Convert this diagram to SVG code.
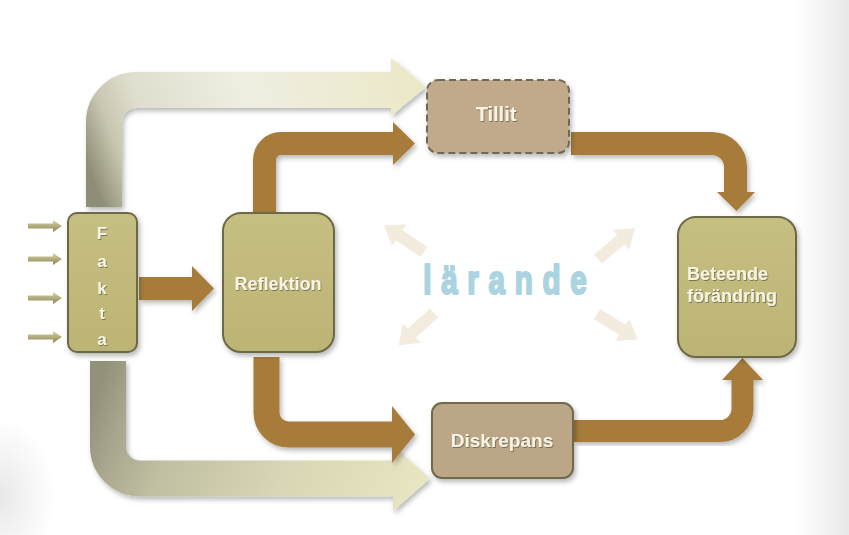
<svg xmlns="http://www.w3.org/2000/svg" width="849" height="535" viewBox="0 0 849 535">
  <defs>
    <style>
      .box { fill: #c1b97a; stroke: #6c6946; stroke-width: 2; }
      .brown { fill: none; stroke: #a77b3b; stroke-linecap: butt; }
      .head { fill: #a77b3b; }
      .lbl { font-family: "Liberation Sans", Arial, sans-serif; font-weight: bold; fill: #f8f4e4; }
      .diag { fill: #f3ebdd; }
      .inp { fill: url(#inpGrad); }
    </style>
    <filter id="shadow" x="-20%" y="-20%" width="140%" height="140%">
      <feDropShadow dx="2" dy="3" stdDeviation="2.5" flood-color="#000" flood-opacity="0.28"/>
    </filter>
    <filter id="tshadow" x="-10%" y="-10%" width="120%" height="130%">
      <feDropShadow dx="0.8" dy="1" stdDeviation="0.6" flood-color="#4a4530" flood-opacity="0.6"/>
    </filter>
    <linearGradient id="boxGrad" x1="0" y1="0" x2="0" y2="1">
      <stop offset="0" stop-color="#c6bf82"/>
      <stop offset="1" stop-color="#bcb474"/>
    </linearGradient>
    <linearGradient id="topGrad" gradientUnits="userSpaceOnUse" x1="104" y1="210" x2="426" y2="87">
      <stop offset="0" stop-color="#8e8d74"/>
      <stop offset="0.1" stop-color="#c8c7b1"/>
      <stop offset="0.2" stop-color="#dfddcd"/>
      <stop offset="0.5" stop-color="#efeee2"/>
      <stop offset="1" stop-color="#ebe8c6"/>
    </linearGradient>
    <linearGradient id="botGrad" gradientUnits="userSpaceOnUse" x1="108" y1="361" x2="430" y2="478">
      <stop offset="0" stop-color="#929179"/>
      <stop offset="0.1" stop-color="#a9a88f"/>
      <stop offset="0.25" stop-color="#c0bfa1"/>
      <stop offset="0.6" stop-color="#d8d6b4"/>
      <stop offset="1" stop-color="#e9e6c2"/>
    </linearGradient>
    <linearGradient id="inpGrad" x1="0" y1="0" x2="0" y2="1">
      <stop offset="0" stop-color="#d9d5a8"/>
      <stop offset="1" stop-color="#8a8550"/>
    </linearGradient>
    <linearGradient id="rightShade" x1="0" y1="0" x2="1" y2="0">
      <stop offset="0" stop-color="#e8e8e8" stop-opacity="0"/>
      <stop offset="1" stop-color="#e8e8e8" stop-opacity="1"/>
    </linearGradient>
    <radialGradient id="blShade" cx="0" cy="0.75" r="0.5">
      <stop offset="0" stop-color="#e8e8e8" stop-opacity="1"/>
      <stop offset="1" stop-color="#e8e8e8" stop-opacity="0"/>
    </radialGradient>
    <path id="diagArrow" d="M0,-6 H30 V-13 L48,0 L30,13 V6 H0 Z"/>
    <path id="inArrow" d="M0,-2.5 H25 V-6 L34,0 L25,6 V2.5 H0 Z"/>
  </defs>

  <!-- background -->
  <rect x="0" y="0" width="849" height="535" fill="#ffffff"/>
  <rect x="795" y="0" width="54" height="535" fill="url(#rightShade)"/>
  <rect x="0" y="380" width="110" height="155" fill="url(#blShade)"/>

  <!-- connectors -->
  <g id="connectors">
    <!-- light: Fakta -> Tillit -->
    <g filter="url(#shadow)">
      <path d="M104,207 V122 A32 32 0 0 1 136,90 H392" fill="none" stroke="url(#topGrad)" stroke-width="36"/>
      <polygon points="391,58 426,87 391,116" fill="url(#topGrad)"/>
    </g>
    <!-- light: Fakta -> Diskrepans -->
    <g filter="url(#shadow)">
      <path d="M108,361 V446.5 A32 32 0 0 0 140,478.5 H394" fill="none" stroke="url(#botGrad)" stroke-width="36"/>
      <polygon points="393,446 430,478.5 393,511" fill="url(#botGrad)"/>
    </g>
    <!-- Fakta -> Reflektion -->
    <g filter="url(#shadow)">
      <rect x="139" y="277" width="54" height="23" class="head"/>
      <polygon class="head" points="192,266 214,288.5 192,311"/>
    </g>
    <!-- Reflektion -> Tillit -->
    <g filter="url(#shadow)">
      <path class="brown" stroke-width="23" d="M264.5,212 V160 A16.5 16.5 0 0 1 281,143.5 H394"/>
      <polygon class="head" points="393,122 415,143.5 393,165"/>
    </g>
    <!-- Reflektion -> Diskrepans -->
    <g filter="url(#shadow)">
      <path class="brown" stroke-width="26" d="M266.5,357 V412.5 A22 22 0 0 0 288.5,434.5 H393"/>
      <polygon class="head" points="392,406 415,434.5 392,463"/>
    </g>
    <!-- Tillit -> Beteende -->
    <g filter="url(#shadow)">
      <path class="brown" stroke-width="23" d="M571,143.5 H712 A23.5 23.5 0 0 1 735.5,167 V193"/>
      <polygon class="head" points="717,192 755,192 736.5,211"/>
    </g>
    <!-- Diskrepans -> Beteende -->
    <g filter="url(#shadow)">
      <path class="brown" stroke-width="22" d="M574,431 H720 A22.5 22.5 0 0 0 742.5,408.5 V379"/>
      <polygon class="head" points="722,380 763,380 742.5,358"/>
    </g>
    <!-- input arrows -->
    <use href="#inArrow" class="inp" transform="translate(28,226)"/>
    <use href="#inArrow" class="inp" transform="translate(28,259)"/>
    <use href="#inArrow" class="inp" transform="translate(28,298)"/>
    <use href="#inArrow" class="inp" transform="translate(28,337)"/>
    <!-- faint arrows around lärande -->
    <use href="#diagArrow" class="diag" transform="translate(424,252) rotate(214)"/>
    <use href="#diagArrow" class="diag" transform="translate(598,259) rotate(-40)"/>
    <use href="#diagArrow" class="diag" transform="translate(434,313) rotate(137.6)"/>
    <use href="#diagArrow" class="diag" transform="translate(597,314) rotate(32)"/>
  </g>

  <!-- nodes -->
  <g id="fakta">
    <rect x="68" y="213" width="69" height="139" rx="9" class="box" style="fill:url(#boxGrad)" filter="url(#shadow)"/>
    <g class="lbl" font-size="17" text-anchor="middle" filter="url(#tshadow)">
      <text x="102" y="239">F</text>
      <text x="102" y="267">a</text>
      <text x="102" y="294">k</text>
      <text x="102" y="319">t</text>
      <text x="102" y="345">a</text>
    </g>
  </g>

  <g id="reflektion">
    <rect x="223" y="213" width="111" height="139" rx="18" class="box" style="fill:url(#boxGrad)" filter="url(#shadow)"/>
    <text x="278" y="290" class="lbl" font-size="18" text-anchor="middle" filter="url(#tshadow)">Reflektion</text>
  </g>

  <g id="tillit">
    <rect x="427" y="80" width="142" height="73" rx="11" fill="#c0aa8b" stroke="#6f6757" stroke-width="2" stroke-dasharray="7 4" filter="url(#shadow)"/>
    <text x="496" y="121" class="lbl" font-size="20" text-anchor="middle" filter="url(#tshadow)">Tillit</text>
  </g>

  <g id="diskrepans">
    <rect x="432" y="403" width="141" height="75" rx="10" fill="#bca688" stroke="#6f6a4c" stroke-width="2" filter="url(#shadow)"/>
    <text x="502" y="447" class="lbl" font-size="19" text-anchor="middle" filter="url(#tshadow)">Diskrepans</text>
  </g>

  <g id="beteende">
    <rect x="678" y="217" width="118" height="140" rx="18" class="box" style="fill:url(#boxGrad)" filter="url(#shadow)"/>
    <g class="lbl" font-size="18" filter="url(#tshadow)">
      <text x="687" y="280">Beteende</text>
      <text x="687" y="302">förändring</text>
    </g>
  </g>

  <g id="larande">
    <text transform="scale(0.74,1)" x="572" y="294" font-family="Liberation Sans, Arial, sans-serif" font-weight="bold" font-size="40" fill="#abd4e0" stroke="#abd4e0" stroke-width="2.2" stroke-linejoin="round" textLength="221" lengthAdjust="spacing">lärande</text>
  </g>
</svg>
